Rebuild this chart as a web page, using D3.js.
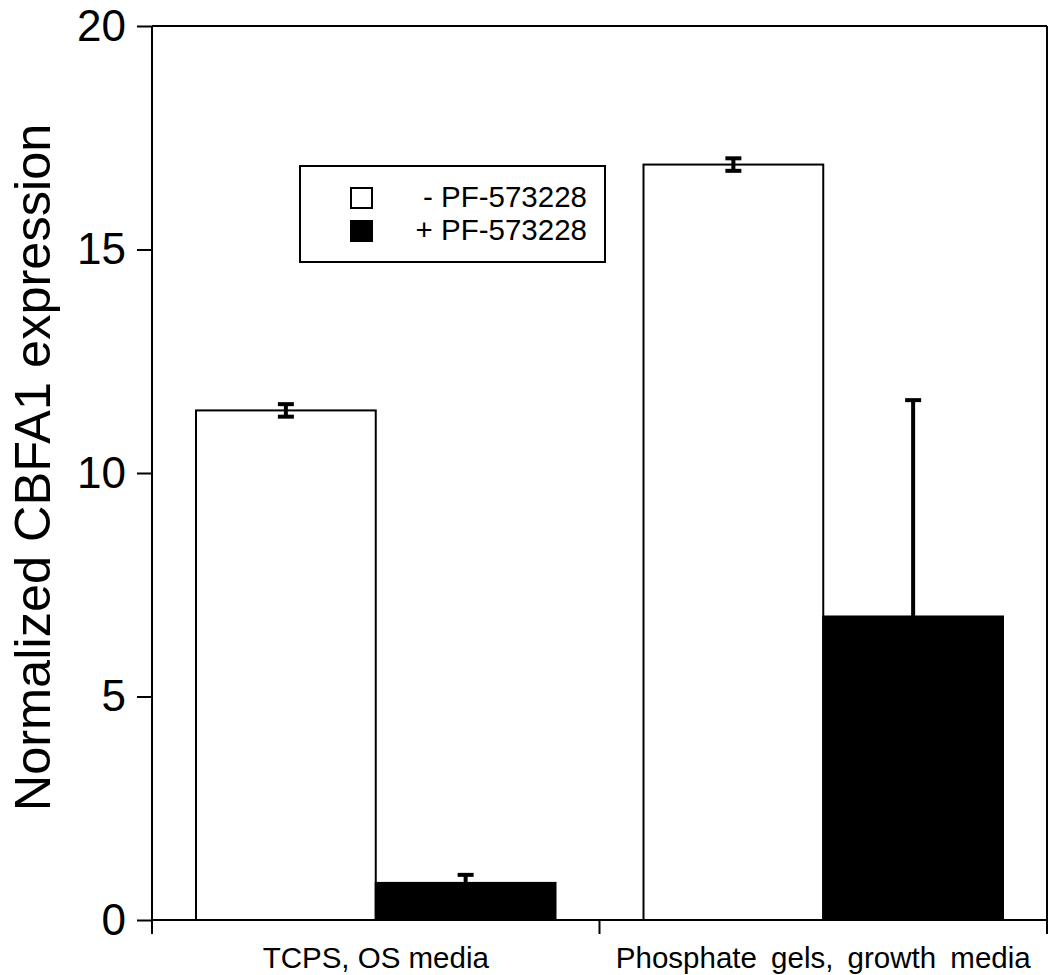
<!DOCTYPE html>
<html>
<head>
<meta charset="utf-8">
<script src="https://cdn.jsdelivr.net/npm/d3@7"></script>
<style>
  html, body { margin: 0; padding: 0; background: #fff; }
  svg { display: block; font-family: "Liberation Sans", Arial, sans-serif; }
</style>
</head>
<body>
<svg id="chart" width="1050" height="975"></svg>
<script>
// ---- data ----
const categories = ["TCPS, OS media", "Phosphate gels, growth media"];
const seriesNames = ["- PF-573228", "+ PF-573228"];
const valuesMinus = [11.40, 16.90];
const valuesPlus = [0.83, 6.79];
const errorsMinus = [0.14, 0.14];
const errorsPlus = [0.18, 4.84];
const yTicks = [0, 5, 10, 15, 20];
const yLabel = "Normalized CBFA1 expression";

const seriesFill = ["#ffffff", "#000000"];

(function () {
const svg = d3.select("#chart");
const mLeft = 152, mRight = 1047, mTop = 26, mBottom = 920;

const y = d3.scaleLinear().domain([0, 20]).range([mBottom, mTop]);
const x0 = d3.scaleBand().domain(categories).range([mLeft, mRight]).padding(0);
const x1 = d3.scaleBand().domain(seriesNames).range([44, x0.bandwidth() - 44]).padding(0);

const rows = [];
categories.forEach((c, i) => {
  rows.push({cat: c, s: seriesNames[0], v: valuesMinus[i], e: errorsMinus[i], k: 0});
  rows.push({cat: c, s: seriesNames[1], v: valuesPlus[i], e: errorsPlus[i], k: 1});
});

// bars
svg.append("g").selectAll("rect").data(rows).join("rect")
  .attr("x", d => x0(d.cat) + x1(d.s))
  .attr("y", d => y(d.v))
  .attr("width", x1.bandwidth())
  .attr("height", d => y(0) - y(d.v))
  .attr("fill", d => seriesFill[d.k])
  .attr("stroke", "#000")
  .attr("stroke-width", 2);

// error bars
const eg = svg.append("g").attr("stroke", "#000").attr("stroke-width", 4);
rows.forEach(d => {
  const cx = x0(d.cat) + x1(d.s) + x1.bandwidth() / 2;
  const lo = d.k === 0 ? d.v - d.e : d.v;
  const hi = d.v + d.e;
  eg.append("line").attr("x1", cx).attr("x2", cx).attr("y1", y(lo)).attr("y2", y(hi));
  eg.append("line").attr("x1", cx - 8).attr("x2", cx + 8).attr("y1", y(hi)).attr("y2", y(hi));
  if (d.k === 0) eg.append("line").attr("x1", cx - 8).attr("x2", cx + 8).attr("y1", y(lo)).attr("y2", y(lo));
});

// y axis
const yAxis = d3.axisLeft(y).tickValues(yTicks).tickSize(15).tickPadding(11).tickFormat(d3.format("d"));
const gy = svg.append("g").attr("transform", `translate(${mLeft},0)`).call(yAxis);
gy.select(".domain").remove();
gy.selectAll(".tick line").attr("stroke", "#000").attr("stroke-width", 2);
gy.selectAll(".tick text").attr("font-size", 44).attr("fill", "#000")
  .attr("dy", "0.32em").attr("font-family", "Liberation Sans, Arial, sans-serif");

// x axis (category labels)
const xAxis = d3.axisBottom(x0).tickSize(0).tickPadding(27);
const gx = svg.append("g").attr("transform", `translate(0,${mBottom})`).call(xAxis);
gx.select(".domain").remove();
gx.selectAll(".tick text").attr("font-size", 29.5).attr("fill", "#000")
  .attr("word-spacing", (d, i) => i === 1 ? 6 : 0)
  .attr("font-family", "Liberation Sans, Arial, sans-serif");
const boundaries = [mLeft, x0(categories[1]), mRight];
svg.append("g").selectAll("line").data(boundaries).join("line")
  .attr("x1", d => d).attr("x2", d => d).attr("y1", mBottom).attr("y2", mBottom + 14)
  .attr("stroke", "#000").attr("stroke-width", 2);

// frame
const frame = svg.append("g").attr("stroke", "#000").attr("stroke-width", 2).attr("fill", "none");
frame.append("line").attr("x1", mLeft).attr("x2", mLeft).attr("y1", mTop).attr("y2", mBottom);
frame.append("line").attr("x1", mLeft).attr("x2", mRight).attr("y1", mBottom).attr("y2", mBottom);
frame.append("line").attr("x1", mLeft).attr("x2", mRight).attr("y1", mTop).attr("y2", mTop);
frame.append("line").attr("x1", mRight).attr("x2", mRight).attr("y1", mTop).attr("y2", mBottom);

// y label
svg.append("text")
  .attr("transform", `translate(50,${(122 + 813) / 2}) rotate(-90)`)
  .attr("text-anchor", "middle")
  .attr("font-size", 50.5)
  .attr("fill", "#000")
  .text(yLabel);

// legend
const lg = svg.append("g");
lg.append("rect").attr("x", 300).attr("y", 166).attr("width", 305).attr("height", 96)
  .attr("fill", "#fff").attr("stroke", "#000").attr("stroke-width", 2);
seriesNames.forEach((s, i) => {
  const yy = 188 + i * 33;
  lg.append("rect").attr("x", 351).attr("y", yy).attr("width", 21).attr("height", 20)
    .attr("fill", seriesFill[i]).attr("stroke", "#000").attr("stroke-width", 2);
  lg.append("text").attr("x", 587).attr("y", yy + 19).attr("text-anchor", "end")
    .attr("font-size", 29.5).attr("fill", "#000").text(s);
});
})();
</script>
</body>
</html>
